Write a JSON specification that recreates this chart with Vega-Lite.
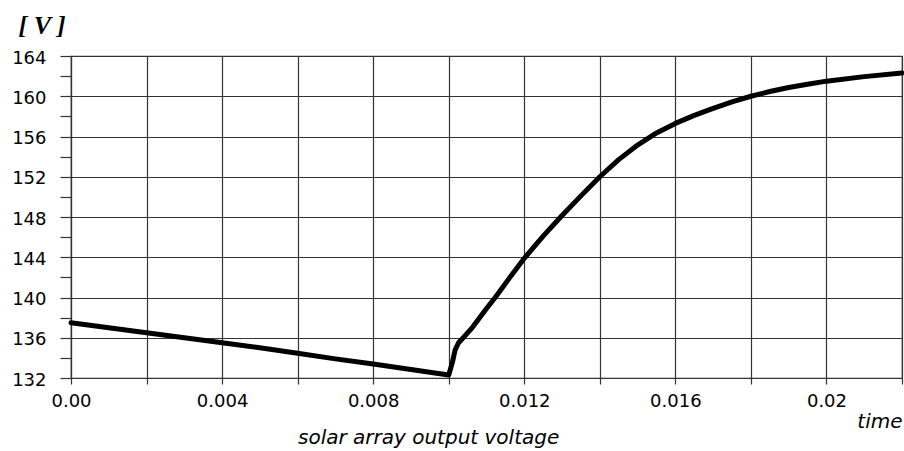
{
"$schema": "https://vega.github.io/schema/vega-lite/v6.json",
"width": 831,
"height": 322,
"autosize": "none",
"padding": {"left": 71, "top": 56, "right": 2, "bottom": 73},
"background": "white",
"title": {"text": "solar array output voltage", "orient": "bottom", "anchor": "start", "frame": "group", "dx": 227, "offset": 1, "dy": -4, "font": "DejaVu Sans", "fontStyle": "italic", "fontSize": 20, "fontWeight": "normal", "color": "black"},
"config": {"view": {"stroke": "#333", "strokeWidth": 1.2}},
"data": {"values": [
{"t": 0, "v": 137.5},
{"t": 0.001, "v": 137.0},
{"t": 0.002, "v": 136.5},
{"t": 0.003, "v": 136.0},
{"t": 0.004, "v": 135.5},
{"t": 0.005, "v": 135.0},
{"t": 0.006, "v": 134.45},
{"t": 0.007, "v": 133.9},
{"t": 0.008, "v": 133.4},
{"t": 0.009, "v": 132.85},
{"t": 0.0100, "v": 132.3},
{"t": 0.0101, "v": 133.6},
{"t": 0.01017, "v": 134.8},
{"t": 0.01026, "v": 135.5},
{"t": 0.01036, "v": 135.9},
{"t": 0.0106, "v": 136.9},
{"t": 0.0110, "v": 138.9},
{"t": 0.01123, "v": 140.0},
{"t": 0.0116, "v": 141.9},
{"t": 0.0120, "v": 143.9},
{"t": 0.0125, "v": 146.1},
{"t": 0.0130, "v": 148.15},
{"t": 0.0135, "v": 150.1},
{"t": 0.0140, "v": 152.0},
{"t": 0.0145, "v": 153.7},
{"t": 0.0150, "v": 155.15},
{"t": 0.0155, "v": 156.35},
{"t": 0.0160, "v": 157.3},
{"t": 0.0165, "v": 158.1},
{"t": 0.0170, "v": 158.8},
{"t": 0.0175, "v": 159.45},
{"t": 0.0180, "v": 160.0},
{"t": 0.0185, "v": 160.47},
{"t": 0.0190, "v": 160.87},
{"t": 0.0195, "v": 161.2},
{"t": 0.0200, "v": 161.5},
{"t": 0.0210, "v": 161.95},
{"t": 0.0220, "v": 162.3}
]},
"mark": {"type": "line", "color": "black", "strokeWidth": 5, "interpolate": "linear", "strokeCap": "round", "strokeJoin": "round"},
"encoding": {
"x": {"field": "t", "type": "quantitative",
 "scale": {"domain": [0, 0.022], "nice": false, "zero": false},
 "axis": {"values": [0, 0.002, 0.004, 0.006, 0.008, 0.01, 0.012, 0.014, 0.016, 0.018, 0.02, 0.022],
  "labelExpr": "round(datum.value*1000)==0 ? '0.00' : (round(datum.value*1000)%4==0 ? format(datum.value,'.3~f') : '')",
  "labelFlush": false, "labelOverlap": false, "labelPadding": 8,
  "labelFont": "DejaVu Sans", "labelFontSize": 18, "labelColor": "black",
  "tickSize": 6, "tickColor": "#333", "tickWidth": 1.2,
  "grid": true, "gridColor": "#333", "gridWidth": 1.2, "gridOpacity": 1,
  "domainColor": "#333", "domainWidth": 1.2,
  "title": "time", "titleX": 831, "titleY": 49, "titleAlign": "right", "titleBaseline": "alphabetic",
  "titleFont": "DejaVu Sans", "titleFontStyle": "italic", "titleFontSize": 20, "titleFontWeight": "normal", "titleColor": "black"}},
"y": {"field": "v", "type": "quantitative",
 "scale": {"domain": [132, 164], "nice": false, "zero": false},
 "axis": {"values": [132, 134, 136, 138, 140, 142, 144, 146, 148, 150, 152, 154, 156, 158, 160, 162, 164],
  "labelExpr": "datum.value % 4 == 0 ? datum.value : ''",
  "labelOverlap": false, "labelPadding": 14, "labelOffset": 2,
  "labelFont": "DejaVu Sans", "labelFontSize": 18, "labelColor": "black",
  "tickSize": 11, "tickColor": "#333", "tickWidth": 1.2,
  "grid": true, "gridColor": "#333", "gridWidth": 1.2,
  "gridOpacity": {"condition": {"test": "datum.value % 4 == 0", "value": 1}, "value": 0},
  "domainColor": "#333", "domainWidth": 1.2,
  "title": "[ V ]", "titleAngle": 0, "titleX": -53, "titleY": -23, "titleAlign": "left", "titleBaseline": "alphabetic",
  "titleFont": "Liberation Serif", "titleFontStyle": "italic", "titleFontSize": 26, "titleFontWeight": "bold", "titleColor": "black"}}
}
}
